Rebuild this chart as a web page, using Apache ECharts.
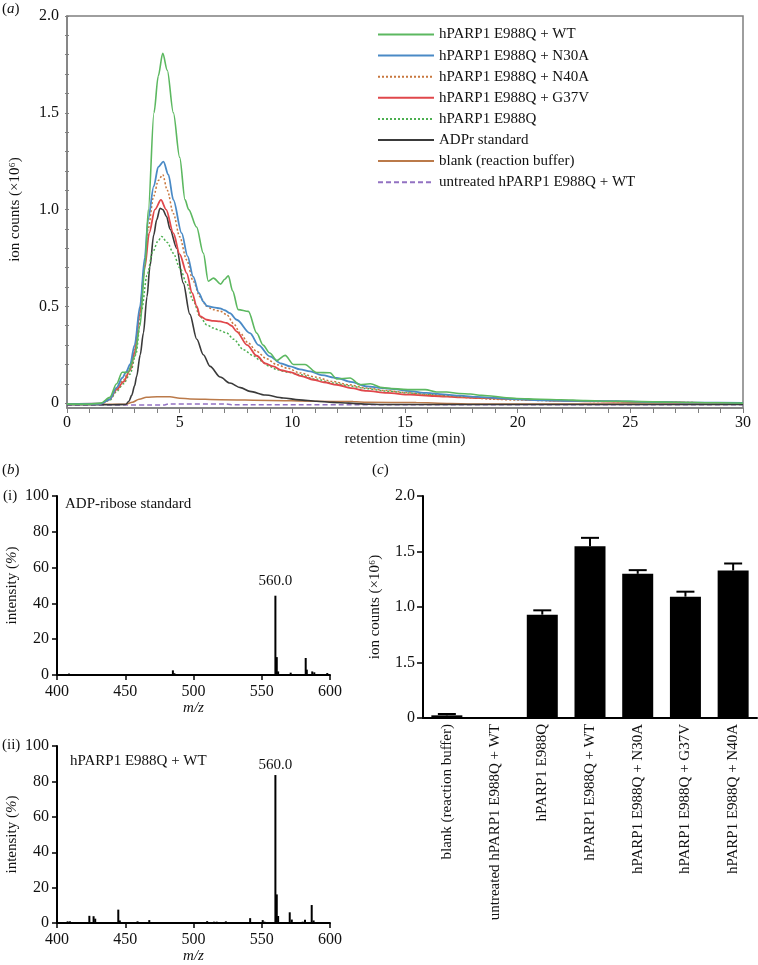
<!DOCTYPE html>
<html><head><meta charset="utf-8">
<script src="https://cdn.jsdelivr.net/npm/echarts@6/dist/echarts.min.js"></script>
<style>html,body{margin:0;padding:0;background:#fff}#c{width:758px;height:965px}</style>
</head><body><div id="c"></div>
<script>
const FONT = '"Liberation Serif","Times New Roman",serif';

// ---- Panel (a): retention time (min) vs ion counts (x10^6)
const nameWT = 'hPARP1 E988Q + WT';
const nameN30A = 'hPARP1 E988Q + N30A';
const nameN40A = 'hPARP1 E988Q + N40A';
const nameG37V = 'hPARP1 E988Q + G37V';
const nameE988Q = 'hPARP1 E988Q';
const nameADPr = 'ADPr standard';
const nameBlank = 'blank (reaction buffer)';
const nameUntr = 'untreated hPARP1 E988Q + WT';

const wtData = [[0,-0.005],[1.0,-0.005],[1.5,0.0],[1.9,0.03],[2.2,0.1],[2.45,0.16],[2.7,0.158],[3.0,0.24],[3.24,0.4],[3.46,0.706],[3.61,1.0],[3.86,1.5],[4.05,1.69],[4.25,1.807],[4.45,1.72],[4.72,1.5],[5.0,1.27],[5.24,1.05],[5.4,1.0],[5.75,0.91],[6.05,0.775],[6.27,0.63],[6.5,0.646],[6.82,0.615],[7.0,0.64],[7.16,0.658],[7.35,0.58],[7.6,0.483],[8.05,0.474],[8.42,0.362],[8.7,0.3],[9.0,0.259],[9.31,0.22],[9.68,0.247],[10.05,0.2],[10.56,0.2],[11.08,0.158],[11.67,0.157],[11.97,0.125],[12.56,0.13],[13.0,0.095],[13.46,0.1],[14.0,0.08],[14.4,0.075],[15.2,0.07],[15.9,0.07],[16.4,0.058],[16.85,0.058],[17.4,0.05],[17.9,0.047],[18.4,0.04],[18.92,0.036],[19.5,0.028],[19.96,0.024],[21.0,0.02],[21.9,0.018],[23.0,0.013],[24.25,0.01],[25.5,0.008],[27.0,0.005],[29.0,0.002],[30,0.0]];
const n30aData = [[0,-0.005],[1.5,-0.003],[1.9,0.02],[2.2,0.08],[2.45,0.13],[2.62,0.16],[2.8,0.2],[3.0,0.3],[3.24,0.5],[3.45,0.75],[3.6,0.95],[3.85,1.12],[4.05,1.22],[4.28,1.248],[4.5,1.18],[4.72,1.05],[5.09,0.878],[5.35,0.76],[5.6,0.654],[5.85,0.57],[6.05,0.525],[6.2,0.503],[6.5,0.495],[6.79,0.49],[7.0,0.48],[7.23,0.465],[7.53,0.431],[8.12,0.362],[8.5,0.3],[9.0,0.242],[9.5,0.205],[9.9,0.19],[10.34,0.175],[10.79,0.164],[11.3,0.145],[11.97,0.13],[12.6,0.11],[13.3,0.087],[14.0,0.078],[14.5,0.073],[15.2,0.062],[15.96,0.053],[16.7,0.045],[17.44,0.039],[18.2,0.032],[18.9,0.027],[20.0,0.02],[21.1,0.015],[22.5,0.012],[24.5,0.01],[26.0,0.006],[28.0,0.003],[30,0.001]];
const n40aData = [[0,-0.005],[1.5,-0.003],[1.9,0.02],[2.2,0.075],[2.5,0.12],[2.8,0.18],[3.0,0.28],[3.24,0.48],[3.45,0.72],[3.6,0.9],[3.85,1.07],[4.05,1.15],[4.25,1.18],[4.45,1.1],[4.72,0.98],[5.0,0.86],[5.31,0.74],[5.6,0.63],[5.9,0.55],[6.2,0.5],[6.5,0.483],[6.8,0.475],[7.09,0.457],[7.4,0.41],[7.68,0.363],[8.05,0.31],[8.42,0.267],[8.85,0.23],[9.31,0.199],[9.8,0.18],[10.34,0.156],[11.0,0.135],[11.8,0.112],[12.5,0.095],[13.3,0.078],[14.2,0.065],[15.0,0.055],[15.96,0.044],[17.0,0.035],[18.0,0.027],[18.9,0.02],[20.0,0.016],[21.9,0.012],[24.0,0.008],[26.0,0.005],[28.0,0.002],[30,0.0]];
const g37vData = [[0,-0.005],[1.5,-0.003],[1.9,0.02],[2.2,0.07],[2.5,0.11],[2.8,0.17],[3.0,0.26],[3.21,0.45],[3.45,0.7],[3.65,0.88],[3.9,1.0],[4.17,1.05],[4.4,1.0],[4.72,0.878],[5.0,0.77],[5.31,0.672],[5.55,0.57],[5.76,0.5],[5.9,0.45],[6.2,0.431],[6.5,0.425],[6.79,0.422],[7.09,0.414],[7.3,0.4],[7.53,0.37],[8.0,0.3],[8.42,0.245],[8.8,0.205],[9.16,0.19],[9.5,0.17],[9.9,0.16],[10.4,0.14],[10.93,0.121],[11.4,0.108],[11.97,0.095],[12.6,0.078],[13.3,0.063],[14.2,0.053],[15.22,0.044],[16.3,0.037],[17.44,0.03],[18.5,0.026],[19.66,0.022],[20.8,0.017],[21.9,0.013],[23.5,0.009],[25.6,0.006],[27.0,0.004],[28.5,0.001],[30,0.0]];
const e988qData = [[0,-0.005],[1.5,-0.003],[1.9,0.015],[2.2,0.06],[2.5,0.1],[2.8,0.15],[3.05,0.25],[3.31,0.48],[3.55,0.66],[3.8,0.78],[4.05,0.84],[4.2,0.861],[4.45,0.83],[4.72,0.775],[5.0,0.7],[5.31,0.62],[5.6,0.53],[5.9,0.448],[6.2,0.405],[6.5,0.388],[6.8,0.375],[7.09,0.362],[7.4,0.33],[7.83,0.276],[8.27,0.245],[8.57,0.22],[9.0,0.19],[9.31,0.173],[9.8,0.16],[10.34,0.147],[11.0,0.125],[11.82,0.104],[12.5,0.09],[13.3,0.075],[14.2,0.062],[15.2,0.052],[16.3,0.043],[17.4,0.035],[18.5,0.027],[19.7,0.021],[21.0,0.016],[22.5,0.012],[24.5,0.008],[26.5,0.005],[28.5,0.002],[30,0.0]];
const adprData = [[0,-0.008],[2.0,-0.008],[2.6,-0.007],[2.75,0.01],[2.87,0.04],[3.0,0.09],[3.09,0.138],[3.25,0.25],[3.39,0.362],[3.55,0.55],[3.68,0.706],[3.85,0.87],[3.98,0.947],[4.13,1.007],[4.25,1.0],[4.42,0.964],[4.57,0.9],[4.87,0.8],[5.16,0.62],[5.45,0.46],[5.76,0.33],[6.05,0.25],[6.35,0.19],[6.8,0.135],[7.23,0.104],[7.7,0.08],[8.12,0.061],[8.8,0.042],[9.6,0.027],[10.3,0.017],[11.08,0.01],[11.8,0.004],[12.5,0.0],[13.2,-0.005],[14.0,-0.007],[30,-0.007]];
const blankData = [[0,-0.006],[2.6,-0.006],[2.9,0.005],[3.2,0.02],[3.53,0.03],[4.0,0.033],[4.57,0.033],[5.0,0.025],[5.46,0.022],[6.8,0.018],[9.0,0.014],[10.93,0.01],[12.7,0.008],[13.3,0.005],[15.5,0.003],[17.0,-0.002],[18.0,-0.004],[30,-0.004]];
const untrData = [[0,-0.01],[4.3,-0.01],[4.5,-0.004],[7.0,-0.004],[7.3,-0.008],[30,-0.008]];

const xLabelsA = [0, 5, 10, 15, 20, 25, 30];
const yLabelsA = [0, 0.5, 1.0, 1.5, 2.0];

// ---- Panel (b): mass spectra, peaks [m/z, intensity %]
const specStdPeaks = [[408.8,0.8],[428,0.5],[471,0.4],[484.9,2.6],[486,1.0],[542,0.5],[560,44.3],[561,10],[562,2],[571.2,1.3],[582.2,9.5],[583,3],[587,2],[588.5,1.5],[598,1.1]];
const specWtPeaks = [[407.8,1.0],[409.5,1.0],[423.7,4.1],[426.8,3.9],[428,2.5],[444.9,7.6],[446,1.5],[459,1.0],[467.6,1.7],[510,1.1],[515,0.8],[517,0.8],[523.7,1.0],[541.5,2.8],[550.7,1.7],[552,0.8],[560,83.6],[561,16.2],[562,4],[570.5,6.1],[572,2],[580,0.8],[581.7,1.9],[586.6,10.2],[588,1.5]];
const mainPeakLabel = '560.0';

// ---- Panel (c): bar chart
const barCats = ['blank (reaction buffer)', 'untreated hPARP1 E988Q + WT', 'hPARP1 E988Q', 'hPARP1 E988Q + WT', 'hPARP1 E988Q + N30A', 'hPARP1 E988Q + G37V', 'hPARP1 E988Q + N40A'];
const barVals = [0.024, 0, 0.931, 1.548, 1.299, 1.093, 1.329];
const barErrTop = [0.036, 0, 0.970, 1.623, 1.332, 1.138, 1.392];
const cTickVals = [0, 0.5, 1.0, 1.5, 2.0];
const cTickLabels = ['0', '1.5', '1.0', '1.5', '2.0'];

const GREY = '#7f7f7f';
const chart = echarts.init(document.getElementById('c'), null, {renderer: 'canvas'});

function lineSeries(name, data, color, width, type) {
  return {
    name, type: 'line', data, xAxisIndex: 0, yAxisIndex: 0,
    symbol: 'none', showSymbol: false, smooth: 0.3, smoothMonotone: 'x',
    lineStyle: {color, width, type: type || 'solid'}, itemStyle: {color},
    z: 3
  };
}
const txt = {fontFamily: FONT, color: '#111'};
const near = (arr, v) => arr.some(t => Math.abs(t - v) < 1e-6);
const intName = {...txt, fontSize: 15, rich: {it: {fontFamily: FONT, fontSize: 15, fontStyle: 'italic', color: '#111'}}};

const option = {
  backgroundColor: '#fff',
  animation: false,
  textStyle: {fontFamily: FONT},
  grid: [
    {left: 67, right: 15, top: 16, height: 392, show: true, borderColor: GREY, borderWidth: 1.5},
    {left: 57, right: 428, top: 496, height: 179},
    {left: 57, right: 428, top: 746, height: 179},
    {left: 423, right: 1, top: 496, height: 222},
    {left: 67, right: 15, top: 16, height: 387.16}
  ],
  legend: {
    orient: 'vertical', left: 377, top: 27, padding: 0, itemWidth: 56, itemHeight: 12, itemGap: 6.1,
    itemStyle: {opacity: 0},
    textStyle: {fontFamily: FONT, fontSize: 15, lineHeight: 15, color: '#111'},
    data: [nameWT, nameN30A, nameN40A, nameG37V, nameE988Q, nameADPr, nameBlank, nameUntr]
  },
  xAxis: [
    {gridIndex: 0, type: 'value', min: 0, max: 30, interval: 1,
     axisLine: {show: true, onZero: false, lineStyle: {color: GREY, width: 1.5}},
     axisTick: {show: true, length: 5, lineStyle: {color: GREY}},
     axisLabel: {...txt, fontSize: 16, margin: 7, showMinLabel: true, showMaxLabel: true,
       formatter: v => (near(xLabelsA, v) ? String(Math.round(v)) : '')},
     splitLine: {show: false},
     name: 'retention time (min)', nameLocation: 'middle', nameGap: 22,
     nameTextStyle: {...txt, fontSize: 15}},
    {gridIndex: 1, type: 'value', min: 400, max: 600, interval: 50,
     axisLine: {show: true, onZero: false, lineStyle: {color: '#000', width: 2}},
     axisTick: {show: true, length: 5, lineStyle: {color: '#000', width: 1.5}},
     axisLabel: {...txt, fontSize: 16, margin: 9},
     splitLine: {show: false},
     name: 'm/z', nameLocation: 'middle', nameGap: 13,
     nameTextStyle: {...txt, fontSize: 15, fontStyle: 'italic'}},
    {gridIndex: 2, type: 'value', min: 400, max: 600, interval: 50,
     axisLine: {show: true, onZero: false, lineStyle: {color: '#000', width: 2}},
     axisTick: {show: true, length: 5, lineStyle: {color: '#000', width: 1.5}},
     axisLabel: {...txt, fontSize: 16, margin: 9},
     splitLine: {show: false},
     name: 'm/z', nameLocation: 'middle', nameGap: 13,
     nameTextStyle: {...txt, fontSize: 15, fontStyle: 'italic'}},
    {gridIndex: 3, type: 'category', data: barCats, boundaryGap: true,
     axisLine: {show: true, lineStyle: {color: '#000', width: 2}},
     axisTick: {show: false},
     axisLabel: {...txt, fontSize: 15, rotate: 90, interval: 0, margin: 6}},
    {gridIndex: 4, type: 'value', min: 0, max: 30, show: false}
  ],
  yAxis: [
    {gridIndex: 0, type: 'value', min: -0.025, max: 2.0,
     axisLine: {show: true, lineStyle: {color: GREY, width: 1.5}},
     axisTick: {show: false}, axisLabel: {show: false}, splitLine: {show: false}},
    {gridIndex: 1, type: 'value', min: 0, max: 100, interval: 20,
     axisLine: {show: true, lineStyle: {color: '#000', width: 2}},
     axisTick: {show: true, length: 5, lineStyle: {color: '#000', width: 1.5}},
     axisLabel: {...txt, fontSize: 16, margin: 8},
     splitLine: {show: false},
     name: 'intensity ({it|%})', nameLocation: 'middle', nameGap: 37,
     nameTextStyle: intName},
    {gridIndex: 2, type: 'value', min: 0, max: 100, interval: 20,
     axisLine: {show: true, lineStyle: {color: '#000', width: 2}},
     axisTick: {show: true, length: 5, lineStyle: {color: '#000', width: 1.5}},
     axisLabel: {...txt, fontSize: 16, margin: 8},
     splitLine: {show: false},
     name: 'intensity ({it|%})', nameLocation: 'middle', nameGap: 37,
     nameTextStyle: intName},
    {gridIndex: 3, type: 'value', min: 0, max: 2.0, interval: 0.5,
     axisLine: {show: true, lineStyle: {color: '#000', width: 2}},
     axisTick: {show: true, length: 6, lineStyle: {color: '#000', width: 1.5}},
     axisLabel: {...txt, fontSize: 16, margin: 8,
       formatter: (v) => { const i = cTickVals.findIndex(t => Math.abs(t - v) < 1e-6); return i >= 0 ? cTickLabels[i] : ''; }},
     splitLine: {show: false},
     name: 'ion counts (×10⁶)', nameLocation: 'middle', nameGap: 40,
     nameTextStyle: {...txt, fontSize: 15}},
    {gridIndex: 4, type: 'value', min: 0, max: 2.0, interval: 0.1,
     axisLine: {show: false},
     axisTick: {show: true, length: 4, lineStyle: {color: GREY}},
     axisLabel: {...txt, fontSize: 16, margin: 10,
       formatter: v => (near(yLabelsA, v) ? (Math.abs(v) < 1e-6 ? '0' : v.toFixed(1)) : '')},
     splitLine: {show: false},
     name: 'ion counts (×10⁶)', nameLocation: 'middle', nameGap: 46,
     nameTextStyle: {...txt, fontSize: 15}}
  ],
  series: [
    lineSeries(nameUntr, untrData, '#9272c2', 1.5, [5, 3]),
    lineSeries(nameBlank, blankData, '#bb7a4a', 1.5),
    lineSeries(nameADPr, adprData, '#3a3a3a', 1.6),
    lineSeries(nameE988Q, e988qData, '#4caf50', 1.5, [2, 2]),
    lineSeries(nameG37V, g37vData, '#e0474b', 1.8),
    lineSeries(nameN40A, n40aData, '#c8773e', 1.5, [2, 2]),
    lineSeries(nameN30A, n30aData, '#4a8ac6', 1.8),
    lineSeries(nameWT, wtData, '#5cb860', 1.6),
    {type: 'bar', xAxisIndex: 1, yAxisIndex: 1, barWidth: 2, itemStyle: {color: '#000'},
     data: specStdPeaks.map(p => p[0] === 560 ? {value: p, label: {show: true, position: 'top', distance: 7, formatter: mainPeakLabel, fontFamily: FONT, fontSize: 15, color: '#111'}} : {value: p})},
    {type: 'bar', xAxisIndex: 2, yAxisIndex: 2, barWidth: 2, itemStyle: {color: '#000'},
     data: specWtPeaks.map(p => p[0] === 560 ? {value: p, label: {show: true, position: 'top', distance: 2, formatter: mainPeakLabel, fontFamily: FONT, fontSize: 15, color: '#111'}} : {value: p})},
    {type: 'bar', xAxisIndex: 3, yAxisIndex: 3, barWidth: 31, itemStyle: {color: '#000'}, data: barVals, z: 2},
    {type: 'custom', xAxisIndex: 3, yAxisIndex: 3, z: 3,
     data: barVals.map((v, i) => [i, v, barErrTop[i]]),
     encode: {x: 0, y: [1, 2]},
     renderItem: (params, api) => {
       const x = api.value(0), lo = api.value(1), hi = api.value(2);
       if (hi <= lo) return null;
       const p1 = api.coord([x, lo]), p2 = api.coord([x, hi]);
       const hw = 9;
       return {type: 'group', children: [
         {type: 'line', shape: {x1: p1[0], y1: p1[1], x2: p2[0], y2: p2[1]}, style: {stroke: '#000', lineWidth: 2}},
         {type: 'line', shape: {x1: p2[0] - hw, y1: p2[1], x2: p2[0] + hw, y2: p2[1]}, style: {stroke: '#000', lineWidth: 2}}
       ]};
     }}
  ],
  graphic: [
    {type: 'text', left: 2, top: 2, style: {text: '({it|a})', font: '15px ' + FONT, fill: '#111', rich: {it: {fontStyle: 'italic', fontFamily: FONT, fontSize: 15}}}},
    {type: 'text', left: 2, top: 463, style: {text: '({it|b})', font: '15px ' + FONT, fill: '#111', rich: {it: {fontStyle: 'italic', fontFamily: FONT, fontSize: 15}}}},
    {type: 'text', left: 372, top: 463, style: {text: '({it|c})', font: '15px ' + FONT, fill: '#111', rich: {it: {fontStyle: 'italic', fontFamily: FONT, fontSize: 15}}}},
    {type: 'text', left: 3, top: 489, style: {text: '(i)', font: '15px ' + FONT, fill: '#111'}},
    {type: 'text', left: 2, top: 738, style: {text: '(ii)', font: '15px ' + FONT, fill: '#111'}},
    {type: 'text', left: 65, top: 497, style: {text: 'ADP-ribose standard', font: '15px ' + FONT, fill: '#111'}},
    {type: 'text', left: 70, top: 754, style: {text: 'hPARP1 E988Q + WT', font: '15px ' + FONT, fill: '#111'}}
  ]
};
chart.setOption(option);
</script>
</body></html>
